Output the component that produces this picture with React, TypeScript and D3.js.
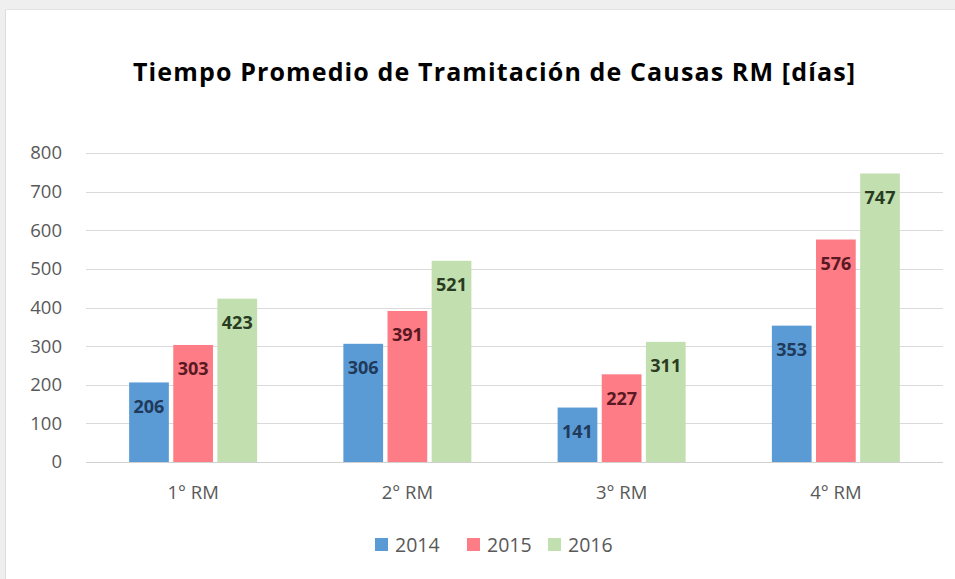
import React from "react";
import * as d3 from "d3";

const title = "Tiempo Promedio de Tramitación  de Causas RM [días]";
const categories = ["1° RM", "2° RM", "3° RM", "4° RM"];
const seriesNames = ["2014", "2015", "2016"];
const values2014 = [206, 306, 141, 353];
const values2015 = [303, 391, 227, 576];
const values2016 = [423, 521, 311, 747];
const yTicks = [0, 100, 200, 300, 400, 500, 600, 700, 800];

const seriesValues = [values2014, values2015, values2016];
const colors = ["#5b9bd5", "#fe7c86", "#c2dfb0"];
const labelColors = ["#1f3a5a", "#5a1822", "#293c22"];

export default function App() {
  const W = 955, H = 579;
  const left = 86, right = 943, top = 153, bottom = 462;
  const x = d3.scaleBand<string>().domain(categories).range([left, right]);
  const x1 = d3.scaleBand<string>().domain(seriesNames).range([0, 128]).paddingInner(0.1);
  const y = d3.scaleLinear().domain([0, 800]).range([bottom, top]);
  const font = "'Open Sans', 'Liberation Sans', sans-serif";

  const legendX = [375, 467, 548];

  return (
    <div style={{ position: "absolute", left: 0, top: 0 }}>
      <svg width={W} height={H} style={{ display: "block" }}>
        <rect x={0} y={0} width={W} height={H} fill="#efefef" />
        <rect x={5} y={9} width={W - 5} height={H - 9} fill="#ffffff" />
        <line x1={5.5} y1={9} x2={5.5} y2={H} stroke="#dcdcdc" />
        <line x1={5} y1={9.5} x2={W} y2={9.5} stroke="#e4e4e4" />
        <text x={133} y={81} textLength={722} lengthAdjust="spacing" fontFamily={font} fontWeight="bold" fontSize={25} fill="#000">
          {title}
        </text>
        {yTicks.map((t) => (
          <g key={t}>
            <line x1={left} x2={right} y1={Math.round(y(t)) + 0.5} y2={Math.round(y(t)) + 0.5} stroke={t === 0 ? "#d0d0d0" : "#dadada"} />
            <text x={62} y={y(t)} dy="0.35em" textAnchor="end" fontFamily={font} fontSize={18.5} fill="#595959">
              {t}
            </text>
          </g>
        ))}
        {categories.map((c, ci) => {
          const cx = (x(c) as number) + x.bandwidth() / 2;
          const start = cx - 64;
          return (
            <g key={c}>
              {seriesNames.map((s, si) => {
                const v = seriesValues[si][ci];
                const bx = start + (x1(s) as number);
                const bw = x1.bandwidth();
                return (
                  <g key={s}>
                    <rect x={bx} y={y(v)} width={bw} height={y(0) - y(v)} fill={colors[si]} />
                    <text x={bx + bw / 2} y={y(v) + 24} dy="0.35em" textAnchor="middle" fontFamily={font} fontWeight="bold" fontSize={18} fill={labelColors[si]}>
                      {v}
                    </text>
                  </g>
                );
              })}
              <text x={cx} y={493} dy="0.35em" textAnchor="middle" fontFamily={font} fontSize={18.5} fill="#595959">
                {c}
              </text>
            </g>
          );
        })}
        {seriesNames.map((s, si) => (
          <g key={s}>
            <rect x={legendX[si]} y={538} width={13} height={13} fill={colors[si]} />
            <text x={legendX[si] + 20} y={545} dy="0.35em" fontFamily={font} fontSize={19.5} fill="#595959">
              {s}
            </text>
          </g>
        ))}
      </svg>
    </div>
  );
}
